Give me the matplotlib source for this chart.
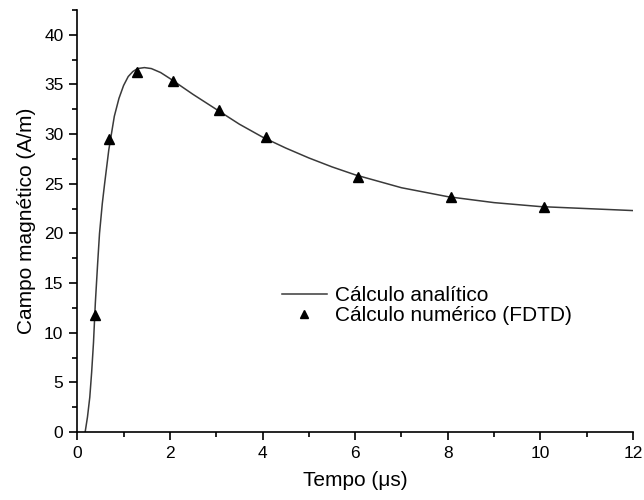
import matplotlib
matplotlib.use("Agg")
import matplotlib.pyplot as plt
from matplotlib.ticker import MultipleLocator

plt.rcParams.update({
    "font.family": ["Liberation Sans", "DejaVu Sans"],
    "font.size": 12,
    "axes.linewidth": 1.2,
    "xtick.direction": "out", "ytick.direction": "out",
})

# analytic curve
t_analitico = [0.17, 0.22, 0.27, 0.31, 0.35, 0.39, 0.44, 0.48, 0.54, 0.59,
               0.68, 0.80, 0.90, 1.00, 1.10, 1.20, 1.30, 1.45, 1.60, 1.80,
               2.00, 2.50, 3.00, 3.50, 4.00, 4.50, 5.00, 5.50, 6.00, 7.00,
               8.00, 9.00, 10.00, 11.00, 12.00]
h_analitico = [0.0, 1.5, 3.5, 6.0, 9.0, 13.0, 17.0, 20.0, 23.0, 25.0,
               28.4, 31.8, 33.6, 34.9, 35.8, 36.3, 36.6, 36.7, 36.6, 36.2,
               35.6, 34.0, 32.5, 31.0, 29.7, 28.6, 27.6, 26.7, 25.9, 24.6,
               23.7, 23.1, 22.7, 22.5, 22.3]

# FDTD points
t_fdtd = [0.38, 0.68, 1.30, 2.07, 3.07, 4.07, 6.07, 8.07, 10.07]
h_fdtd = [11.8, 29.5, 36.3, 35.3, 32.4, 29.7, 25.7, 23.7, 22.7]

fig = plt.figure(figsize=(6.44, 5.0), dpi=100)
ax = fig.add_axes([0.12, 0.136, 0.863, 0.844])

ax.plot(t_analitico, h_analitico, color="#3a3a3a", linewidth=1.1,
        label="Cálculo analítico")
ax.plot(t_fdtd, h_fdtd, linestyle="none", marker="^", markersize=7.5,
        color="black", label="Cálculo numérico (FDTD)")

ax.set_xlim(0, 12)
ax.set_ylim(0, 42.5)
ax.xaxis.set_major_locator(MultipleLocator(2))
ax.xaxis.set_minor_locator(MultipleLocator(1))
ax.yaxis.set_major_locator(MultipleLocator(5))
ax.yaxis.set_minor_locator(MultipleLocator(2.5))
ax.tick_params(which="major", length=6, width=1.2, pad=4, labelsize=12.5)
ax.tick_params(which="minor", length=3.5, width=1.2)
for s in ("top", "right"):
    ax.spines[s].set_visible(False)

ax.set_xlabel("Tempo (\u03bcs)", fontsize=15, labelpad=7)
ax.set_ylabel("Campo magnético (A/m)", fontsize=15, labelpad=6)

ax.legend(loc="upper left", bbox_to_anchor=(282 / 644, 1 - 286 / 500),
          bbox_transform=fig.transFigure, frameon=False,
          fontsize=15, handlelength=2.15, handletextpad=0.4,
          labelspacing=0.05, borderpad=0, borderaxespad=0, markerscale=0.75)

fig.savefig("out.png", dpi=100)
